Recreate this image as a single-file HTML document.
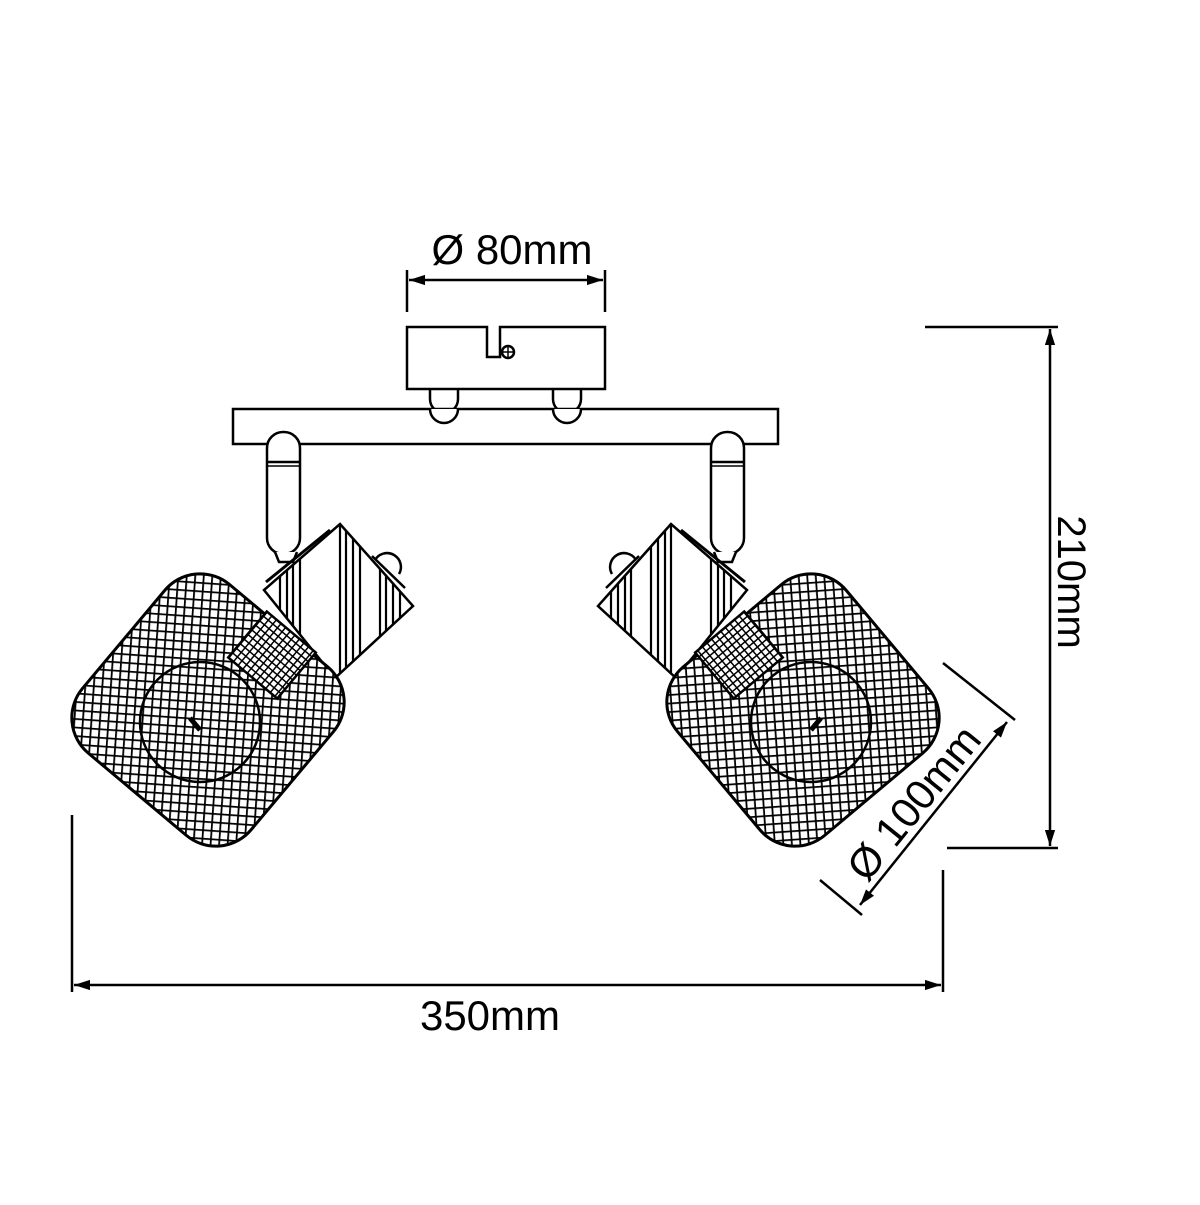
<!DOCTYPE html>
<html><head><meta charset="utf-8"><style>html,body{margin:0;padding:0;background:#fff}</style></head>
<body>
<svg width="1200" height="1200" viewBox="0 0 1200 1200" xmlns="http://www.w3.org/2000/svg">
<defs>
<marker id="ar" viewBox="0 0 10 10" refX="10" refY="5" markerWidth="16" markerHeight="16" markerUnits="userSpaceOnUse" orient="auto-start-reverse">
<path d="M0,1.8 L10,5 L0,8.2 Z" fill="#000"/></marker>
<pattern id="mesh" width="8.5" height="8.5" patternUnits="userSpaceOnUse" patternTransform="rotate(-36)">
<rect width="8.5" height="8.5" fill="#fff"/>
<path d="M0,0 H8.5 M0,0 V8.5" stroke="#000" stroke-width="3.6"/></pattern>
<pattern id="mesh2" width="6" height="6" patternUnits="userSpaceOnUse">
<rect width="6" height="6" fill="#fff"/>
<path d="M0,0 H6 M0,0 V6" stroke="#000" stroke-width="3"/></pattern>
<clipPath id="hc"><polygon points="340,524 413,606 335,678 264,590"/></clipPath>
<g id="lamp" fill="none" stroke="#000" stroke-width="2.5">
<rect x="267" y="432" width="33" height="122" rx="16" fill="#fff"/>
<line x1="267" y1="462" x2="300" y2="462"/><line x1="267" y1="466" x2="300" y2="466" stroke-width="1.5"/>
<path d="M275,552 l4,10 h14 l4,-10" fill="#fff"/>
<polygon points="340,524 413,606 335,678 264,590" fill="#fff"/>
<g clip-path="url(#hc)" stroke-width="2.2">
<path d="M280,520V690 M287,520V690 M293,520V690 M300,520V690 M340,520V690 M346,520V690 M353,520V690 M360,520V690 M380,520V690 M386,520V690 M393,520V690 M400,520V690"/>
</g>
<line x1="266" y1="582" x2="330" y2="530" stroke-width="3"/>
<path d="M375,560 a13,13 0 1 1 24,14" fill="#fff"/>
<line x1="372" y1="556" x2="405" y2="588"/>
<rect x="98" y="600" width="220" height="220" rx="46" transform="rotate(40 208 710)" fill="url(#mesh)" stroke-width="3"/>
<circle cx="200" cy="722" r="60" stroke-width="2.5"/>
<g transform="rotate(40 272 655)">
<rect x="240" y="625" width="64" height="60" fill="url(#mesh2)" stroke-width="2.5"/>
</g>
<path d="M190,718 l10,12" stroke-width="5"/>
</g>
</defs>
<g fill="none" stroke="#000" stroke-width="2.5">
<path d="M407,389 V327 H487 V357 H500 V327 H605 V389 Z" fill="#fff"/>
<circle cx="508" cy="352" r="6"/><path d="M502,352h12M508,346v12" stroke-width="1.5"/>
<path d="M430,389 v10 a14,14 0 0 0 28,0 v-10"/>
<path d="M553,389 v10 a14,14 0 0 0 28,0 v-10"/>
<rect x="233" y="409" width="545" height="35" fill="#fff"/>
<path d="M430,409 a14,14 0 0 0 28,0 M553,409 a14,14 0 0 0 28,0" fill="#fff"/>
</g>
<use href="#lamp"/>
<use href="#lamp" transform="translate(1011 0) scale(-1 1)"/>
<g fill="none" stroke="#000" stroke-width="2.5">
<line x1="407" y1="270" x2="407" y2="312"/><line x1="605" y1="270" x2="605" y2="312"/>
<line x1="409" y1="280" x2="603" y2="280" marker-start="url(#ar)" marker-end="url(#ar)"/>
<line x1="925" y1="327" x2="1058" y2="327"/><line x1="947" y1="848" x2="1058" y2="848"/>
<line x1="1050" y1="329" x2="1050" y2="846" marker-start="url(#ar)" marker-end="url(#ar)"/>
<line x1="72" y1="815" x2="72" y2="992"/><line x1="943" y1="870" x2="943" y2="992"/>
<line x1="74" y1="985" x2="941" y2="985" marker-start="url(#ar)" marker-end="url(#ar)"/>
<line x1="943" y1="663" x2="1015" y2="720"/><line x1="820" y1="880" x2="862" y2="915"/>
<line x1="860" y1="905" x2="1007" y2="722" marker-start="url(#ar)" marker-end="url(#ar)"/>
</g>
<g font-family="Liberation Sans, sans-serif" font-size="42" fill="#000" text-anchor="middle">
<text x="512" y="264">Ø 80mm</text>
<text x="490" y="1030">350mm</text>
<text transform="translate(1058 582) rotate(90)" font-size="40">210mm</text>
<text transform="translate(925 812) rotate(-51)">Ø 100mm</text>
</g>
</svg>
</body></html>
